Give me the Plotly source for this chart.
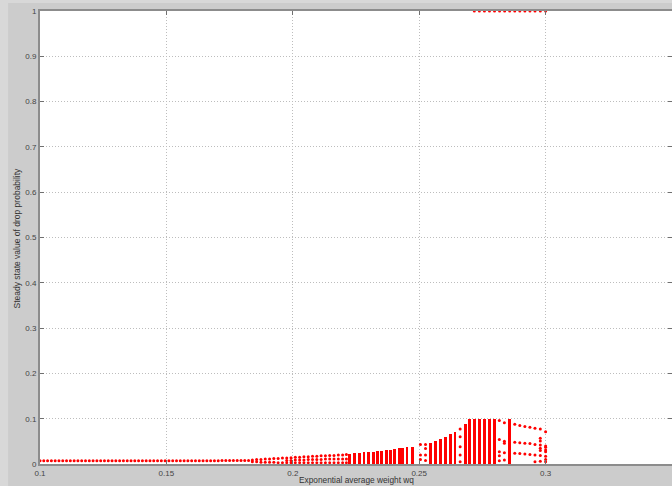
import plotly.graph_objects as go

# ---- data: steady-state drop probability vs. exponential weight wq ----

# single stable point
low_wq = [0.1000, 0.1015, 0.1030, 0.1045, 0.1060, 0.1075, 0.1090, 0.1105, 0.1120, 0.1135,
          0.1150, 0.1165, 0.1180, 0.1195, 0.1210, 0.1225, 0.1240, 0.1255, 0.1270, 0.1285,
          0.1300, 0.1315, 0.1330, 0.1345, 0.1360, 0.1375, 0.1390, 0.1405, 0.1420, 0.1435,
          0.1450, 0.1465, 0.1480, 0.1495, 0.1510, 0.1525, 0.1540, 0.1555, 0.1570, 0.1585,
          0.1600, 0.1615, 0.1630, 0.1645, 0.1660, 0.1675, 0.1690, 0.1705, 0.1720, 0.1735,
          0.1750, 0.1765, 0.1780, 0.1795, 0.1810, 0.1825]
low_p = [0.007, 0.007, 0.007, 0.007, 0.007, 0.007, 0.007, 0.007, 0.007, 0.007,
         0.007, 0.007, 0.007, 0.007, 0.007, 0.007, 0.007, 0.007, 0.007, 0.007,
         0.007, 0.007, 0.007, 0.007, 0.007, 0.007, 0.007, 0.007, 0.007, 0.007,
         0.007, 0.007, 0.007, 0.007, 0.007, 0.007, 0.007, 0.007, 0.007, 0.007,
         0.007, 0.007, 0.007, 0.007, 0.007, 0.007, 0.007, 0.007, 0.008, 0.008,
         0.008, 0.008, 0.008, 0.008, 0.008, 0.008]

# period-2 / period-3 region
split_wq = [0.1840, 0.1857, 0.1874, 0.1891, 0.1908, 0.1925, 0.1942, 0.1959, 0.1976, 0.1993,
            0.2010, 0.2027, 0.2044, 0.2061, 0.2078, 0.2095, 0.2112, 0.2129, 0.2146, 0.2163,
            0.2180, 0.2197, 0.2212]
split_upper = [0.009, 0.010, 0.010, 0.011, 0.011, 0.012, 0.012, 0.013, 0.013, 0.014,
               0.015, 0.015, 0.016, 0.016, 0.017, 0.017, 0.018, 0.018, 0.019, 0.019,
               0.020, 0.020, 0.021]
split_middle = [None, None, None, None, None, None, None, None, 0.008, 0.008,
                0.009, 0.009, 0.009, 0.010, 0.010, 0.010, 0.010, 0.011, 0.011, 0.011,
                0.011, 0.011, 0.011]
split_lower = [0.005, 0.005, 0.004, 0.004, 0.004, 0.004, 0.003, 0.003, 0.003, 0.003,
               0.003, 0.003, 0.003, 0.003, 0.003, 0.003, 0.003, 0.003, 0.003, 0.003,
               0.003, 0.003, 0.003]

# chaotic bands: values fill the range from 0 up to the band top
band_wq = [0.2225, 0.2245, 0.2265, 0.2282, 0.2298, 0.2318, 0.2335, 0.2351, 0.2371, 0.2387,
           0.2403, 0.2423, 0.2434, 0.2452, 0.2473,
           0.2545, 0.2563, 0.2583, 0.2603, 0.2623, 0.2642,
           0.2682, 0.2698, 0.2718, 0.2738, 0.2757, 0.2777, 0.2797,
           0.2857]
band_top = [0.022, 0.024, 0.025, 0.026, 0.026, 0.027, 0.028, 0.029, 0.031, 0.032,
            0.033, 0.035, 0.036, 0.037, 0.038,
            0.047, 0.051, 0.055, 0.060, 0.066, 0.071,
            0.089, 0.100, 0.100, 0.100, 0.100, 0.100, 0.100,
            0.100]

# periodic windows between the bands (several points per wq)
win_wq = [0.2505, 0.2505, 0.2505,
          0.2525, 0.2525, 0.2525, 0.2525,
          0.2662, 0.2662, 0.2662, 0.2662, 0.2662,
          0.2817, 0.2817, 0.2817, 0.2817, 0.2817,
          0.2837, 0.2837, 0.2837, 0.2837, 0.2837]
win_p = [0.043, 0.020, 0.010,
         0.043, 0.034, 0.020, 0.008,
         0.077, 0.060, 0.038, 0.020, 0.005,
         0.096, 0.054, 0.027, 0.018, 0.007,
         0.091, 0.050, 0.046, 0.025, 0.009]

# three-branch orbit after the last band
tail_wq = [0.2878, 0.2898, 0.2918, 0.2938, 0.2958, 0.2979, 0.3000]
tail_upper = [0.088, 0.085, 0.083, 0.081, 0.079, 0.077, 0.071]
tail_middle = [0.048, 0.047, 0.046, 0.045, 0.043, 0.042, 0.040]
tail_lower = [0.024, 0.023, 0.022, 0.021, 0.020, 0.019, 0.017]
tail_extra_wq = [0.2958, 0.2979, 0.2979, 0.2979, 0.2979, 0.2979,
                 0.3000, 0.3000, 0.3000, 0.3000, 0.3000]
tail_extra_p = [0.005, 0.057, 0.051, 0.035, 0.030, 0.006,
                0.037, 0.031, 0.027, 0.010, 0.005]

# saturated orbit points (p = 1)
sat_wq = [0.2718, 0.2738, 0.2758, 0.2778, 0.2798, 0.2818, 0.2838, 0.2858, 0.2878, 0.2898,
          0.2918, 0.2938, 0.2958, 0.2979, 0.3000]
sat_p = [1, 1, 1, 1, 1, 1, 1, 1, 1, 1, 1, 1, 1, 1, 1]

x_ticks = [0.1, 0.15, 0.2, 0.25, 0.3, 0.35]
x_tick_text = ["0.1", "0.15", "0.2", "0.25", "0.3", "0.35"]
y_ticks = [0, 0.1, 0.2, 0.3, 0.4, 0.5, 0.6, 0.7, 0.8, 0.9, 1]
y_tick_text = ["0", "0.1", "0.2", "0.3", "0.4", "0.5", "0.6", "0.7", "0.8", "0.9", "1"]

RED = "#ff0000"
dot = dict(color=RED, size=3, line=dict(width=0))

fig = go.Figure()

fig.add_trace(go.Bar(x=band_wq, y=band_top, width=0.0011,
                     marker=dict(color=RED, line=dict(width=0))))

fig.add_trace(go.Scatter(x=low_wq, y=low_p, mode="markers", marker=dot))
for ys in (split_upper, split_middle, split_lower):
    fig.add_trace(go.Scatter(x=split_wq, y=ys, mode="markers", marker=dot))
fig.add_trace(go.Scatter(x=win_wq, y=win_p, mode="markers", marker=dot))
for ys in (tail_upper, tail_middle, tail_lower):
    fig.add_trace(go.Scatter(x=tail_wq, y=ys, mode="markers", marker=dot))
fig.add_trace(go.Scatter(x=tail_extra_wq, y=tail_extra_p, mode="markers", marker=dot))
fig.add_trace(go.Scatter(x=sat_wq, y=sat_p, mode="markers", marker=dot, cliponaxis=False))

axis_common = dict(
    showgrid=True, gridcolor="#bdbdbd", griddash="1px,2px", gridwidth=1,
    showline=True, linecolor="#8c8c8c", linewidth=2, mirror="ticks",
    ticks="inside", ticklen=4, tickcolor="#707070", tickwidth=1,
    tickfont=dict(family="Liberation Sans, Arial, sans-serif", size=8, color="#444444"),
    zeroline=False,
)

fig.update_layout(
    width=672, height=486,
    margin=dict(l=40, r=0, t=11, b=22, autoexpand=False),
    paper_bgcolor="#cccccc",
    plot_bgcolor="#ffffff",
    showlegend=False,
    bargap=0,
    xaxis=dict(range=[0.1, 0.35], tickvals=x_ticks, ticktext=x_tick_text, **axis_common),
    yaxis=dict(range=[0, 1], tickvals=y_ticks, ticktext=y_tick_text, **axis_common),
    annotations=[
        dict(text="Exponential average weight wq", xref="paper", yref="paper",
             x=0.5, y=-0.0353, xanchor="center", yanchor="middle", showarrow=False,
             font=dict(family="Liberation Sans, Arial, sans-serif", size=8.3, color="#333333")),
        dict(text="Steady state value of drop probability", xref="paper", yref="paper",
             x=-0.0364, y=0.5, xanchor="center", yanchor="middle", textangle=-90,
             showarrow=False,
             font=dict(family="Liberation Sans, Arial, sans-serif", size=8.5, color="#333333")),
    ],
    shapes=[
        dict(type="rect", xref="paper", yref="paper", x0=-0.0633, x1=-0.0506,
             y0=-0.0486, y1=1.0243, fillcolor="#d8d8d8", line=dict(width=0), layer="below"),
        dict(type="rect", xref="paper", yref="paper", x0=-0.0633, x1=1.0,
             y0=1.0177, y1=1.0243, fillcolor="#d8d8d8", line=dict(width=0), layer="below"),
    ],
)

fig.write_html("out.html")
